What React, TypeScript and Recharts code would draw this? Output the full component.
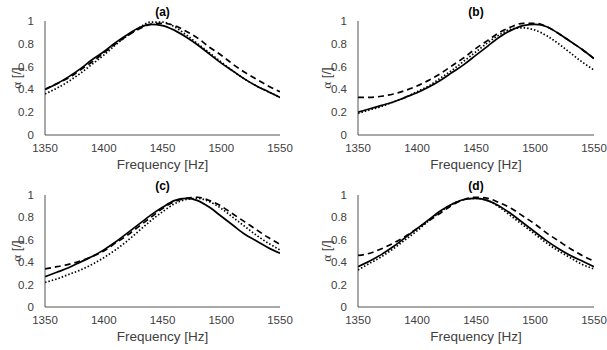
import React from "react";
import { LineChart, Line, XAxis, YAxis, Label } from "recharts";

const freqs = [1350, 1360, 1370, 1380, 1390, 1400, 1410, 1420, 1430, 1440, 1450, 1460, 1470, 1480, 1490, 1500, 1510, 1520, 1530, 1540, 1550];
const xTicks = [1350, 1400, 1450, 1500, 1550];
const yTicks = [0, 0.2, 0.4, 0.6, 0.8, 1];
const panelTitles = ["(a)", "(b)", "(c)", "(d)"];

const aSolid = [0.40, 0.45, 0.51, 0.58, 0.66, 0.73, 0.81, 0.88, 0.94, 0.97, 0.96, 0.92, 0.86, 0.79, 0.71, 0.63, 0.56, 0.49, 0.43, 0.38, 0.33];
const aDashed = [0.40, 0.45, 0.50, 0.57, 0.64, 0.72, 0.80, 0.87, 0.93, 0.97, 0.98, 0.96, 0.91, 0.85, 0.77, 0.70, 0.62, 0.55, 0.49, 0.43, 0.38];
const aDotted = [0.36, 0.41, 0.47, 0.54, 0.62, 0.70, 0.79, 0.87, 0.94, 0.99, 0.99, 0.95, 0.88, 0.80, 0.72, 0.64, 0.56, 0.49, 0.43, 0.38, 0.33];

const bSolid = [0.20, 0.23, 0.26, 0.29, 0.33, 0.37, 0.42, 0.48, 0.55, 0.62, 0.70, 0.78, 0.86, 0.92, 0.96, 0.97, 0.95, 0.89, 0.82, 0.75, 0.67];
const bDashed = [0.33, 0.33, 0.34, 0.36, 0.39, 0.43, 0.48, 0.54, 0.61, 0.68, 0.76, 0.83, 0.90, 0.95, 0.98, 0.98, 0.95, 0.89, 0.82, 0.75, 0.67];
const bDotted = [0.19, 0.22, 0.25, 0.29, 0.33, 0.38, 0.43, 0.50, 0.57, 0.65, 0.73, 0.81, 0.88, 0.93, 0.94, 0.92, 0.87, 0.80, 0.72, 0.64, 0.57];

const cSolid = [0.27, 0.31, 0.35, 0.40, 0.45, 0.51, 0.58, 0.66, 0.74, 0.82, 0.89, 0.95, 0.97, 0.95, 0.89, 0.81, 0.73, 0.65, 0.59, 0.53, 0.48];
const cDashed = [0.34, 0.36, 0.38, 0.41, 0.45, 0.50, 0.57, 0.64, 0.72, 0.80, 0.88, 0.94, 0.97, 0.98, 0.95, 0.90, 0.83, 0.76, 0.69, 0.62, 0.56];
const cDotted = [0.22, 0.25, 0.29, 0.33, 0.38, 0.44, 0.51, 0.59, 0.68, 0.77, 0.85, 0.92, 0.96, 0.97, 0.94, 0.88, 0.80, 0.72, 0.64, 0.57, 0.51];

const dSolid = [0.36, 0.41, 0.47, 0.54, 0.62, 0.70, 0.78, 0.86, 0.92, 0.96, 0.97, 0.95, 0.90, 0.83, 0.75, 0.67, 0.59, 0.52, 0.46, 0.41, 0.36];
const dDashed = [0.46, 0.48, 0.52, 0.57, 0.63, 0.70, 0.77, 0.84, 0.91, 0.96, 0.98, 0.97, 0.93, 0.88, 0.81, 0.74, 0.66, 0.59, 0.52, 0.46, 0.41];
const dDotted = [0.33, 0.39, 0.45, 0.52, 0.60, 0.68, 0.77, 0.85, 0.92, 0.96, 0.97, 0.95, 0.89, 0.81, 0.73, 0.65, 0.57, 0.50, 0.44, 0.38, 0.34];

const build = (s: number[], d: number[], o: number[]) =>
  freqs.map((f, i) => ({ f, solid: s[i], dashed: d[i], dotted: o[i] }));

const panelData = [
  build(aSolid, aDashed, aDotted),
  build(bSolid, bDashed, bDotted),
  build(cSolid, cDashed, cDotted),
  build(dSolid, dDashed, dDotted),
];

const AXIS = "#262626";
const TXT = "#404040";
const FONT = "'Liberation Sans', Arial, sans-serif";
const Y_AXIS_W = 30;

type PanelProps = {
  idx: number;
  left: number;
  top: number;
  width: number;
  height: number;
  margin: { top: number; right: number; bottom: number; left: number };
};

const Panel = ({ idx, left, top, width, height, margin }: PanelProps) => {
  const data = panelData[idx];
  const plotLeft = margin.left + Y_AXIS_W;
  const plotRight = width - margin.right;
  const plotTop = margin.top;
  const plotBottom = height - margin.bottom - 20;
  const titleX = (plotLeft + plotRight) / 2;
  const titleY = plotTop - 9;
  const ylabX = 16;
  const ylabY = (plotTop + plotBottom) / 2;
  return (
    <div style={{ position: "absolute", left, top, width, height }}>
      <LineChart width={width} height={height} data={data} margin={margin} style={{ overflow: "visible" }}>
        <XAxis
          dataKey="f"
          type="number"
          domain={[1350, 1550]}
          ticks={xTicks}
          allowDataOverflow
          stroke={AXIS}
          strokeWidth={0.8}
          tickLine={false}
          tickMargin={3}
          height={20}
          tick={{ fill: TXT, fontSize: 11.5, fontFamily: FONT }}
        >
          <Label
            value="Frequency [Hz]"
            position="bottom"
            offset={4}
            style={{ fill: TXT, fontSize: 13.5, fontFamily: FONT }}
          />
        </XAxis>
        <YAxis
          type="number"
          domain={[0, 1]}
          ticks={yTicks}
          allowDataOverflow
          stroke={AXIS}
          strokeWidth={0.8}
          tickLine={false}
          tickMargin={5}
          width={Y_AXIS_W}
          tick={{ fill: TXT, fontSize: 11.5, fontFamily: FONT }}
        >
          <Label
            content={() => (
              <g>
                <text
                  x={ylabX}
                  y={ylabY}
                  transform={`rotate(-90 ${ylabX} ${ylabY})`}
                  textAnchor="middle"
                  dominantBaseline="central"
                  fill={TXT}
                  fontSize={13}
                  fontFamily={FONT}
                >
                  <tspan fontFamily="'Liberation Serif', 'DejaVu Serif', serif">α</tspan>
                  <tspan> [/]</tspan>
                </text>
                <text
                  x={titleX}
                  y={titleY}
                  textAnchor="middle"
                  dominantBaseline="central"
                  fill="#000"
                  fontSize={12}
                  fontWeight="bold"
                  fontFamily={FONT}
                >
                  {panelTitles[idx]}
                </text>
              </g>
            )}
          />
        </YAxis>
        <Line dataKey="solid" type="monotone" stroke="#000" strokeWidth={1.7} dot={false} isAnimationActive={false} />
        <Line dataKey="dashed" type="monotone" stroke="#000" strokeWidth={1.7} strokeDasharray="6 4" dot={false} isAnimationActive={false} />
        <Line dataKey="dotted" type="monotone" stroke="#000" strokeWidth={1.7} strokeDasharray="1.5 2" dot={false} isAnimationActive={false} />
      </LineChart>
    </div>
  );
};

export default function App() {
  return (
    <div style={{ position: "absolute", left: 0, top: 0, width: 607, height: 350, background: "#fff", overflow: "hidden" }}>
      <Panel idx={0} left={0} top={0} width={300} height={175} margin={{ top: 21, right: 20, bottom: 20, left: 15 }} />
      <Panel idx={1} left={310} top={0} width={297} height={175} margin={{ top: 21, right: 13, bottom: 20, left: 18 }} />
      <Panel idx={2} left={0} top={175} width={300} height={175} margin={{ top: 20, right: 20, bottom: 23, left: 15 }} />
      <Panel idx={3} left={310} top={175} width={297} height={175} margin={{ top: 20, right: 13, bottom: 23, left: 18 }} />
    </div>
  );
}
